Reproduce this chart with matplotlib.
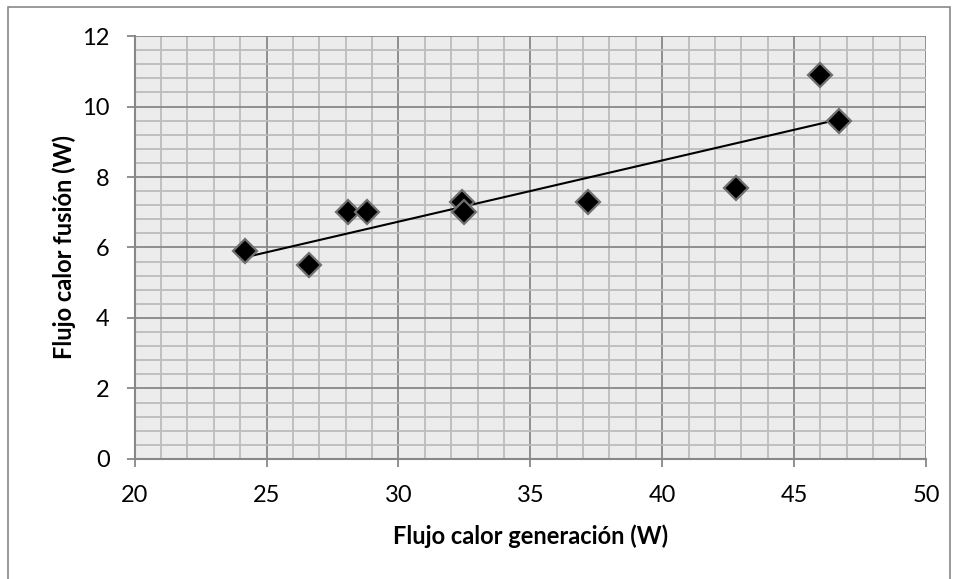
import numpy as np
import matplotlib
matplotlib.use("Agg")
import matplotlib.pyplot as plt
from matplotlib.ticker import MultipleLocator
from matplotlib.patches import Rectangle

plt.rcParams['font.family'] = ['Lato', 'DejaVu Sans']

# Measured heat flows
generacion = [24.2, 26.6, 28.1, 28.8, 32.4, 32.5, 37.2, 42.8, 46.0, 46.7]
fusion = [5.9, 5.5, 7.0, 7.0, 7.3, 7.0, 7.3, 7.7, 10.9, 9.6]

x_ticks = [20, 25, 30, 35, 40, 45, 50]
y_ticks = [0, 2, 4, 6, 8, 10, 12]

fig = plt.figure(figsize=(9.58, 5.79), dpi=100)
ax = fig.add_axes([0.1406, 0.2073, 0.826, 0.7305])

major_c = '#888888'
minor_c = '#bcbcbc'
ax.set_facecolor('#ececec')

ax.set_xlim(20, 50)
ax.set_ylim(0, 12)
ax.xaxis.set_major_locator(MultipleLocator(5))
ax.xaxis.set_minor_locator(MultipleLocator(1))
ax.yaxis.set_major_locator(MultipleLocator(2))
ax.yaxis.set_minor_locator(MultipleLocator(0.4))
ax.set_xticks(x_ticks)
ax.set_yticks(y_ticks)

ax.grid(which='minor', color=minor_c, linewidth=1.3, zorder=0)
ax.grid(which='major', color=major_c, linewidth=1.3, zorder=0)
ax.set_axisbelow(True)

for s in ['top', 'right']:
    ax.spines[s].set_visible(False)
for s in ['left', 'bottom']:
    ax.spines[s].set_color(major_c)
    ax.spines[s].set_linewidth(1.5)

ax.tick_params(which='major', direction='out', length=6, width=1.3, color=major_c,
               labelsize=17, labelcolor='black')
ax.tick_params(which='minor', length=0)
ax.tick_params(axis='x', pad=13)
ax.tick_params(axis='y', pad=12)

# Linear trend line over the data range
coef = np.polyfit(generacion, fusion, 1)
xs = np.array([min(generacion), max(generacion)])
ax.plot(xs, np.polyval(coef, xs), color='black', linewidth=1.5, zorder=3)

ax.plot(generacion, fusion, linestyle='none', marker='D', markersize=12.5,
        markerfacecolor='black', markeredgecolor='#707070', markeredgewidth=1.6,
        zorder=4, clip_on=False)

ax.set_xlabel('Flujo calor generación (W)', fontsize=17, fontweight='bold')
ax.set_ylabel('Flujo calor fusión (W)', fontsize=17, fontweight='bold')
ax.xaxis.set_label_coords(0.5, -0.155)
ax.yaxis.set_label_coords(-0.074, 0.5)

# Chart area border
fig.patches.append(Rectangle((8 / 958, -0.01), 942 / 958, 1 - 7 / 579 + 0.01,
                             transform=fig.transFigure, fill=False,
                             edgecolor='#888888', linewidth=1.2))

fig.savefig('out.png', dpi=100)
